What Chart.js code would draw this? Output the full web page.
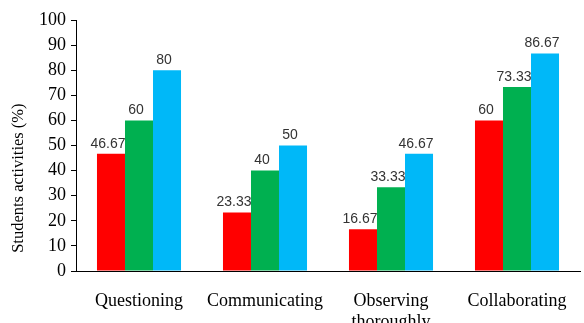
<!DOCTYPE html>
<html>
<head>
<meta charset="utf-8">
<script src="https://cdn.jsdelivr.net/npm/chart.js@4/dist/chart.umd.min.js"></script>
<style>
  body { margin: 0; background: #fff; }
  #wrap { width: 584px; height: 323px; }
</style>
</head>
<body>
<div id="wrap"><canvas id="myChart" width="584" height="323"></canvas></div>
<script>
var categories = ['Questioning', 'Communicating', ['Observing', 'thoroughly'], 'Collaborating'];
var seriesRed = [46.67, 23.33, 16.67, 60];
var seriesGreen = [60, 40, 33.33, 73.33];
var seriesBlue = [80, 50, 46.67, 86.67];
var yTitle = 'Students activities (%)';

// draws the value above each bar
var barValues = {
  id: 'barValues',
  afterDatasetsDraw: function(chart) {
    var ctx = chart.ctx;
    ctx.save();
    ctx.font = '14px "Liberation Sans", Arial, sans-serif';
    ctx.fillStyle = '#333';
    ctx.textAlign = 'center';
    ctx.textBaseline = 'bottom';
    chart.data.datasets.forEach(function(ds, i) {
      chart.getDatasetMeta(i).data.forEach(function(bar, j) {
        ctx.fillText(String(ds.data[j]), bar.x - 3, bar.y - 3);
      });
    });
    ctx.restore();
  }
};

// y title sits lower than the middle of the axis in the original
var yTitlePlugin = {
  id: 'yTitlePlugin',
  afterDraw: function(chart) {
    var ctx = chart.ctx;
    var y = chart.scales.y;
    ctx.save();
    ctx.translate(19, y.getPixelForValue(37));
    ctx.rotate(-Math.PI / 2);
    ctx.font = '16.5px "Liberation Serif", "Times New Roman", serif';
    ctx.fillStyle = '#000';
    ctx.textAlign = 'center';
    ctx.textBaseline = 'middle';
    ctx.fillText(yTitle, 0, 0);
    ctx.restore();
  }
};

var ctx = document.getElementById('myChart').getContext('2d');
var myChart = new Chart(ctx, {
  type: 'bar',
  data: {
    labels: categories,
    datasets: [
      { data: seriesRed, backgroundColor: '#FF0000' },
      { data: seriesGreen, backgroundColor: '#00B050' },
      { data: seriesBlue, backgroundColor: '#00B8F8' }
    ]
  },
  plugins: [barValues, yTitlePlugin],
  options: {
    responsive: false,
    animation: false,
    layout: { padding: { top: 20, right: 4, left: 0, bottom: 0 } },
    datasets: { bar: { categoryPercentage: 0.667, barPercentage: 1 } },
    plugins: {
      legend: { display: false },
      tooltip: { enabled: false }
    },
    scales: {
      x: {
        afterFit: function(scale) { scale.height = 52; },
        grid: { display: false },
        border: { color: '#000', width: 1 },
        ticks: {
          color: '#000',
          padding: 11,
          maxRotation: 0,
          font: { family: '"Liberation Serif", "Times New Roman", serif', size: 18 }
        }
      },
      y: {
        min: 0,
        max: 100,
        afterFit: function(scale) { scale.width = 76; },
        grid: { display: true, drawOnChartArea: false, drawTicks: true, tickLength: 5, color: '#000' },
        border: { color: '#000', width: 1 },
        ticks: {
          stepSize: 10,
          color: '#000',
          padding: 5,
          font: { family: '"Liberation Serif", "Times New Roman", serif', size: 18 }
        }
      }
    }
  }
});
</script>
</body>
</html>
